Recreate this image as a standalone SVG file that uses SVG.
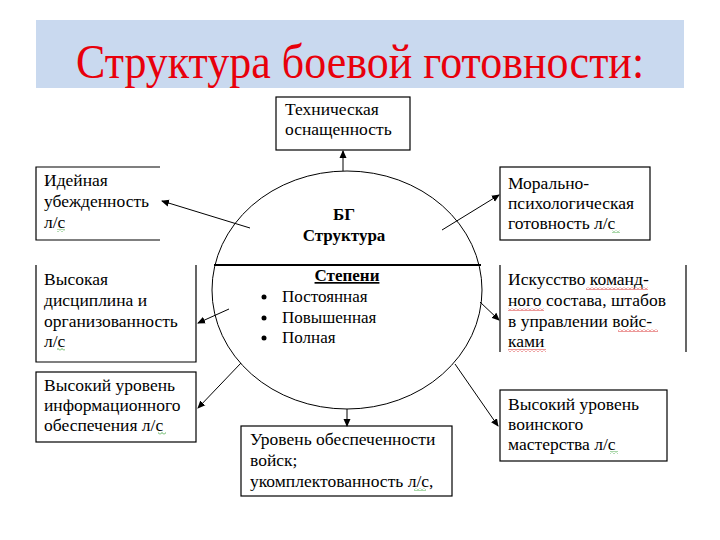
<svg xmlns="http://www.w3.org/2000/svg" width="720" height="540" viewBox="0 0 720 540">
<defs>
<style>
.t{font-family:"Liberation Serif","Times New Roman",serif;font-size:17.5px;fill:#000}
.m{font-size:17px}
.b{font-weight:bold;font-size:17px}
.box{fill:none;stroke:#000;stroke-width:1.2}
.c{fill:none;stroke:#000;stroke-width:1}
</style>
<marker id="ar" markerWidth="8" markerHeight="8" refX="7" refY="4" orient="auto" markerUnits="userSpaceOnUse">
<path d="M0,0.5 L8,4 L0,7.5 z" fill="#000"/>
</marker>
<pattern id="wr" width="4" height="3" patternUnits="userSpaceOnUse">
<path d="M0,2.5 L2,0.5 L4,2.5" fill="none" stroke="#d00000" stroke-width="0.8"/>
</pattern>
<pattern id="wg" width="4" height="3" patternUnits="userSpaceOnUse">
<path d="M0,2.5 L2,0.5 L4,2.5" fill="none" stroke="#2a9a2a" stroke-width="0.8"/>
</pattern>
</defs>
<rect width="720" height="540" fill="#fff"/>
<g id="title">
<rect x="36" y="20" width="648" height="68" fill="#c9d9ef"/>
<text transform="translate(360,78) scale(1,1.12)" x="0" y="0" text-anchor="middle" font-family="Liberation Serif, Times New Roman, serif" font-size="44" fill="#e8000b">Структура боевой готовности:</text>
</g>
<g id="connectors" class="c">
<line class="c" x1="343" y1="171" x2="343" y2="151" marker-end="url(#ar)"/>
<line class="c" x1="250" y1="228" x2="162" y2="201" marker-end="url(#ar)"/>
<line class="c" x1="442" y1="230" x2="499" y2="195" marker-end="url(#ar)"/>
<line class="c" x1="229" y1="309" x2="198" y2="323" marker-end="url(#ar)"/>
<line class="c" x1="480" y1="302" x2="499" y2="320" marker-end="url(#ar)"/>
<line class="c" x1="241" y1="363" x2="198" y2="408" marker-end="url(#ar)"/>
<line class="c" x1="455" y1="364" x2="498" y2="426" marker-end="url(#ar)"/>
<line class="c" x1="347" y1="409" x2="347" y2="426" marker-end="url(#ar)"/>
</g>
<g id="center">
<ellipse cx="347" cy="290" rx="135" ry="119" fill="none" stroke="#000" stroke-width="1"/>
<line x1="214" y1="265" x2="481" y2="265" stroke="#000" stroke-width="2.2"/>
<text class="t b" x="344" y="220" text-anchor="middle">БГ</text>
<text class="t b" x="344" y="241" text-anchor="middle">Структура</text>
<text class="t b" x="347" y="281" text-anchor="middle" text-decoration="underline">Степени</text>
<circle cx="264" cy="297" r="2.5"/>
<circle cx="264" cy="318" r="2.5"/>
<circle cx="264" cy="338" r="2.5"/>
<text class="t m" x="282" y="302">Постоянная</text>
<text class="t m" x="282" y="323">Повышенная</text>
<text class="t m" x="282" y="343">Полная</text>
</g>
<g id="n-tech">
<rect class="box" x="276" y="97" width="134" height="53"/>
<text class="t" x="285" y="115">Техническая</text>
<text class="t" x="285" y="135">оснащенность</text>
</g>
<g id="n-ideya">
<path class="box" d="M160,167 H36 V240 H160"/>
<text class="t" x="44" y="186">Идейная</text>
<text class="t" x="44" y="207">убежденность</text>
<text class="t" x="44" y="228">л/с</text>
<rect x="57" y="229" width="8" height="3" fill="url(#wg)"/>
</g>
<g id="n-moral">
<rect class="box" x="500" y="167" width="150" height="73"/>
<text class="t" x="508" y="189">Морально-</text>
<text class="t" x="508" y="209">психологическая</text>
<text class="t" x="508" y="229">готовность л/с</text>
<rect x="612" y="230" width="8" height="3" fill="url(#wg)"/>
</g>
<g id="n-discipline">
<path class="box" d="M36,265 V362 H196 V265"/>
<text class="t" x="44" y="285">Высокая</text>
<text class="t" x="44" y="306">дисциплина и</text>
<text class="t" x="44" y="327">организованность</text>
<text class="t" x="44" y="347">л/с</text>
<rect x="57" y="348" width="8" height="3" fill="url(#wg)"/>
</g>
<g id="n-art">
<line class="box" x1="500" y1="265" x2="500" y2="352"/>
<line class="box" x1="686" y1="265" x2="686" y2="352"/>
<text class="t" x="508" y="285">Искусство команд-</text>
<text class="t" x="508" y="306">ного состава, штабов</text>
<text class="t" x="508" y="327">в управлении войс-</text>
<text class="t" x="508" y="347">ками</text>
<rect x="586" y="287" width="62" height="3" fill="url(#wr)"/>
<rect x="508" y="308" width="36" height="3" fill="url(#wr)"/>
<rect x="618" y="329" width="40" height="3" fill="url(#wr)"/>
<rect x="508" y="349" width="38" height="3" fill="url(#wr)"/>
</g>
<g id="n-info">
<rect class="box" x="36" y="372" width="160" height="70"/>
<text class="t" x="44" y="391">Высокий уровень</text>
<text class="t" x="44" y="411">информационного</text>
<text class="t" x="44" y="431">обеспечения л/с</text>
<rect x="158" y="432" width="8" height="3" fill="url(#wg)"/>
</g>
<g id="n-master">
<rect class="box" x="500" y="390" width="167" height="71"/>
<text class="t" x="508" y="410">Высокий уровень</text>
<text class="t" x="508" y="430">воинского</text>
<text class="t" x="508" y="450">мастерства л/с</text>
<rect x="610" y="451" width="8" height="3" fill="url(#wg)"/>
</g>
<g id="n-supply">
<rect class="box" x="241" y="426" width="211" height="70"/>
<text class="t" x="250" y="445">Уровень обеспеченности</text>
<text class="t" x="250" y="466">войск;</text>
<text class="t" x="250" y="487">укомплектованность л/с,</text>
<rect x="414" y="488" width="12" height="3" fill="url(#wg)"/>
</g>
</svg>
